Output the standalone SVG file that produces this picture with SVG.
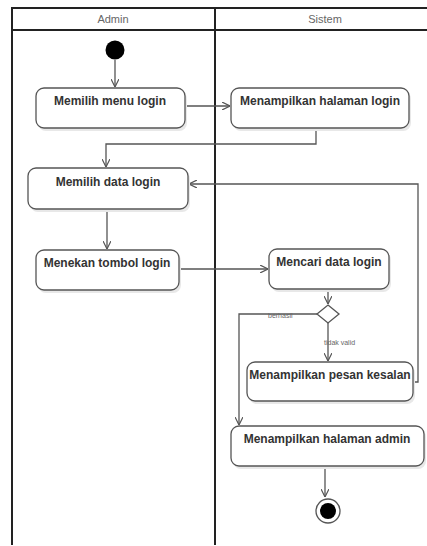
<svg xmlns="http://www.w3.org/2000/svg" width="427" height="546" viewBox="0 0 427 546">
<defs>
<style>
.frame{stroke:#222;stroke-width:2;fill:none}
.hdr{font-family:"Liberation Sans",Arial,sans-serif;font-size:11px;fill:#666;text-anchor:middle}
.node rect.b{fill:#fff;stroke:#555;stroke-width:1.3}
.node rect.s{fill:#e8e8e8;stroke:none}
.lbl{font-family:"Liberation Sans",Arial,sans-serif;font-size:12px;font-weight:bold;fill:#333;text-anchor:middle}
.edge{stroke:#555;stroke-width:1.3;fill:none}
.el{font-family:"Liberation Sans",Arial,sans-serif;font-size:7px;fill:#666}
</style>
<marker id="arr" viewBox="0 0 10 10" refX="10" refY="5" markerWidth="8" markerHeight="8" orient="auto" markerUnits="userSpaceOnUse">
<path d="M0,0 L10,5 L0,10" fill="none" stroke="#555" stroke-width="1.5"/>
</marker>
</defs>
<rect width="427" height="546" fill="#fff"/>
<g id="swimlanes">
<line class="frame" x1="12" y1="8" x2="427" y2="8"/>
<line class="frame" x1="12" y1="30" x2="427" y2="30"/>
<line class="frame" x1="12" y1="7" x2="12" y2="545"/>
<line class="frame" x1="215" y1="7" x2="215" y2="545"/>
<text class="hdr" x="113" y="23">Admin</text>
<text class="hdr" x="325" y="23">Sistem</text>
</g>
<g id="connectors">
<path class="edge" d="M115,60 V87" marker-end="url(#arr)"/>
<path class="edge" d="M185,106 H230" marker-end="url(#arr)"/>
<path class="edge" d="M316,128 V144 H106 V167" marker-end="url(#arr)"/>
<path class="edge" d="M107,209 V249" marker-end="url(#arr)"/>
<path class="edge" d="M179,269 H268" marker-end="url(#arr)"/>
<path class="edge" d="M328,289 V304" marker-end="url(#arr)"/>
<path class="edge" d="M317,314 H239 V425" marker-end="url(#arr)"/>
<path class="edge" d="M328,323 V361" marker-end="url(#arr)"/>
<path class="edge" d="M412,382 H418 V184 H189" marker-end="url(#arr)"/>
<path class="edge" d="M325,466 V497" marker-end="url(#arr)"/>
<text class="el" x="268" y="318">berhasil</text>
<text class="el" x="324" y="345">tidak valid</text>
</g>
<g id="start">
<circle cx="115" cy="50" r="9.5" fill="#000"/>
</g>
<g id="n1" class="node">
<rect class="s" x="38" y="91" width="149" height="40" rx="8"/>
<rect class="b" x="36" y="88" width="149" height="40" rx="8"/>
<text class="lbl" x="110" y="105">Memilih menu login</text>
</g>
<g id="n2" class="node">
<rect class="s" x="233" y="91" width="178" height="40" rx="8"/>
<rect class="b" x="231" y="88" width="178" height="40" rx="8"/>
<text class="lbl" x="320" y="105">Menampilkan halaman login</text>
</g>
<g id="n3" class="node">
<rect class="s" x="30" y="171" width="160" height="41" rx="8"/>
<rect class="b" x="28" y="168" width="160" height="41" rx="8"/>
<text class="lbl" x="108" y="186">Memilih data login</text>
</g>
<g id="n4" class="node">
<rect class="s" x="38" y="253" width="143" height="40" rx="8"/>
<rect class="b" x="36" y="250" width="143" height="40" rx="8"/>
<text class="lbl" x="107" y="267">Menekan tombol login</text>
</g>
<g id="n5" class="node">
<rect class="s" x="271" y="252" width="120" height="40" rx="8"/>
<rect class="b" x="269" y="249" width="120" height="40" rx="8"/>
<text class="lbl" x="329" y="266">Mencari data login</text>
</g>
<g id="decision">
<path d="M328,305 L339,314 L328,323 L317,314 Z" fill="#fff" stroke="#555" stroke-width="1.3"/>
</g>
<g id="n6" class="node">
<rect class="s" x="249" y="365" width="166" height="39" rx="8"/>
<rect class="b" x="247" y="362" width="166" height="39" rx="8"/>
<text class="lbl" x="330" y="379">Menampilkan pesan kesalan</text>
</g>
<g id="n7" class="node">
<rect class="s" x="233" y="429" width="193" height="40" rx="8"/>
<rect class="b" x="231" y="426" width="193" height="40" rx="8"/>
<text class="lbl" x="327" y="443">Menampilkan halaman admin</text>
</g>
<g id="end">
<circle cx="328" cy="511" r="12" fill="#fff" stroke="#555" stroke-width="1.3"/>
<circle cx="328" cy="511" r="8" fill="#000"/>
</g>
</svg>
